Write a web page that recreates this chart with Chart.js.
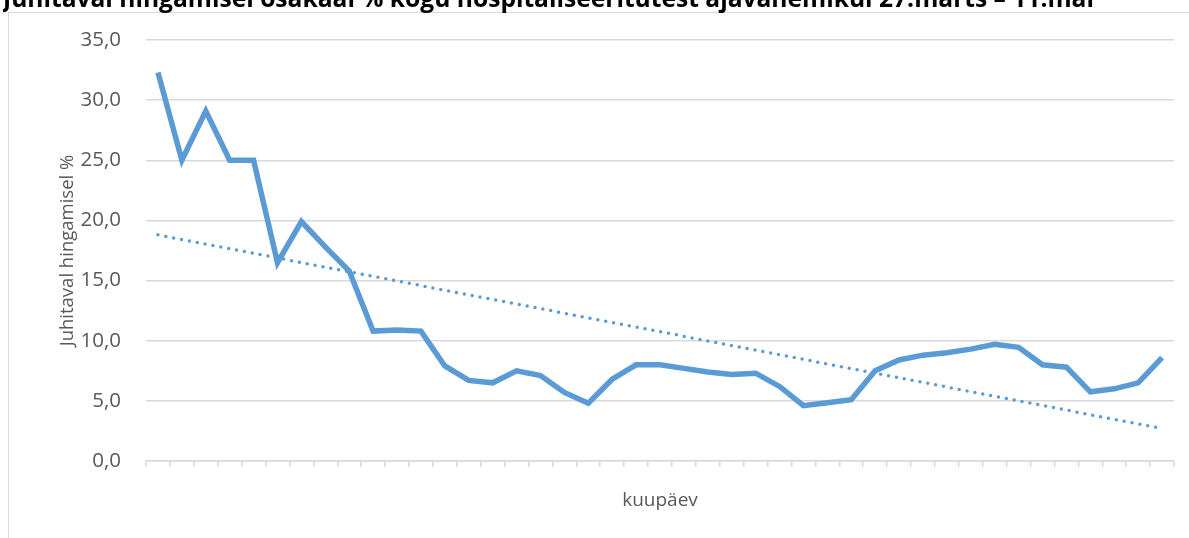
<!DOCTYPE html>
<html>
<head>
<meta charset="utf-8">
<script src="https://cdn.jsdelivr.net/npm/chart.js@4"></script>
<style>
  html, body { margin: 0; padding: 0; background: #fff; overflow: hidden; }
  #frame {
    position: absolute; left: 8px; top: 12px; width: 1300px; height: 700px;
    border-left: 1.5px solid #d9d9d9; border-top: 1.5px solid #d9d9d9;
  }
  #wrap { position: absolute; left: 3px; top: -15px; width: 1186px; height: 553px; }
</style>
</head>
<body>
<div id="frame"></div>
<div id="wrap"><canvas id="myChart"></canvas></div>
<script>
// kuupäevad (x-telje kategooriad, silte ei näidata)
const kuupaevad = [
  "27.03", "28.03", "29.03", "30.03", "31.03", "01.04", "02.04", "03.04", "04.04", "05.04",
  "06.04", "07.04", "08.04", "09.04", "10.04", "11.04", "12.04", "13.04", "14.04", "15.04",
  "16.04", "17.04", "18.04", "19.04", "20.04", "21.04", "22.04", "23.04", "24.04", "25.04",
  "26.04", "27.04", "28.04", "29.04", "30.04", "01.05", "02.05", "03.05", "04.05", "05.05",
  "06.05", "07.05", "08.05"
];

// juhitaval hingamisel %
const hingamisel = [
  32.3, 25.0, 29.1, 25.0, 25.0, 16.5, 19.9, 17.8, 15.8, 10.8,
  10.9, 10.8, 7.9, 6.7, 6.5, 7.5, 7.1, 5.7, 4.8, 6.8,
  8.0, 8.0, 7.7, 7.4, 7.2, 7.3, 6.2, 4.6, 4.85, 5.1,
  7.5, 8.4, 8.8, 9.0, 9.3, 9.7, 9.45, 8.0, 7.8, 5.75,
  6.0, 6.5, 8.6
];

// lineaarne trend: algus- ja lõppväärtus
const trendAlgus = 18.8;
const trendLopp = 2.7;

const yTicks = [0, 5, 10, 15, 20, 25, 30, 35];

const sinine = "#5b9bd5";
const hall = "#d9d9d9";
const tekst = "#595959";

const trend = kuupaevad.map((k, i) => i === 0 ? trendAlgus : (i === kuupaevad.length - 1 ? trendLopp : null));

new Chart("myChart", {
  type: "line",
  data: {
    labels: kuupaevad,
    datasets: [{
      data: hingamisel,
      borderColor: sinine,
      borderWidth: 5.5,
      pointRadius: 0,
      tension: 0,
      borderJoinStyle: "miter",
      fill: false
    }, {
      data: trend,
      borderColor: sinine,
      borderWidth: 3.5,
      borderDash: [0, 8],
      borderCapStyle: "round",
      pointRadius: 0,
      spanGaps: true,
      fill: false
    }]
  },
  options: {
    responsive: true,
    maintainAspectRatio: false,
    animation: false,
    layout: { padding: { left: 0, right: 15, top: 0, bottom: 25.6 } },
    plugins: {
      legend: { display: false },
      tooltip: { enabled: false },
      title: {
        display: true,
        text: "Juhitaval hingamisel osakaal % kogu hospitaliseeritutest ajavahemikul 27.märts – 11.mai",
        align: "start",
        color: "#000",
        font: { family: "Open Sans", size: 24.6, weight: "bold", lineHeight: 1.2 },
        padding: { top: 0, bottom: 25.5 }
      }
    },
    scales: {
      x: {
        offset: true,
        border: { display: true, color: hall, width: 1.5 },
        grid: { display: true, drawOnChartArea: false, offset: true, tickLength: 6, color: hall, lineWidth: 1.5 },
        ticks: { display: false },
        title: {
          display: true,
          text: "kuupäev",
          color: tekst,
          font: { family: "Open Sans", size: 19, lineHeight: 1.2 },
          padding: { top: 22.6, bottom: 0 }
        }
      },
      y: {
        min: 0,
        max: 35,
        afterFit: function (scale) { scale.width = 143; },
        afterBuildTicks: function (scale) { scale.ticks = yTicks.map(v => ({ value: v })); },
        border: { display: false },
        grid: { color: hall, lineWidth: 1.5, drawTicks: false },
        ticks: {
          padding: 25,
          color: tekst,
          font: { family: "Open Sans", size: 20.5 },
          callback: function (value) { return value.toFixed(1).replace(".", ","); }
        },
        title: {
          display: true,
          text: "Juhitaval hingamisel %",
          color: tekst,
          font: { family: "Open Sans", size: 18.5, lineHeight: 1.2 },
          padding: { top: 54, bottom: 0 }
        }
      }
    }
  }
});
</script>
</body>
</html>
